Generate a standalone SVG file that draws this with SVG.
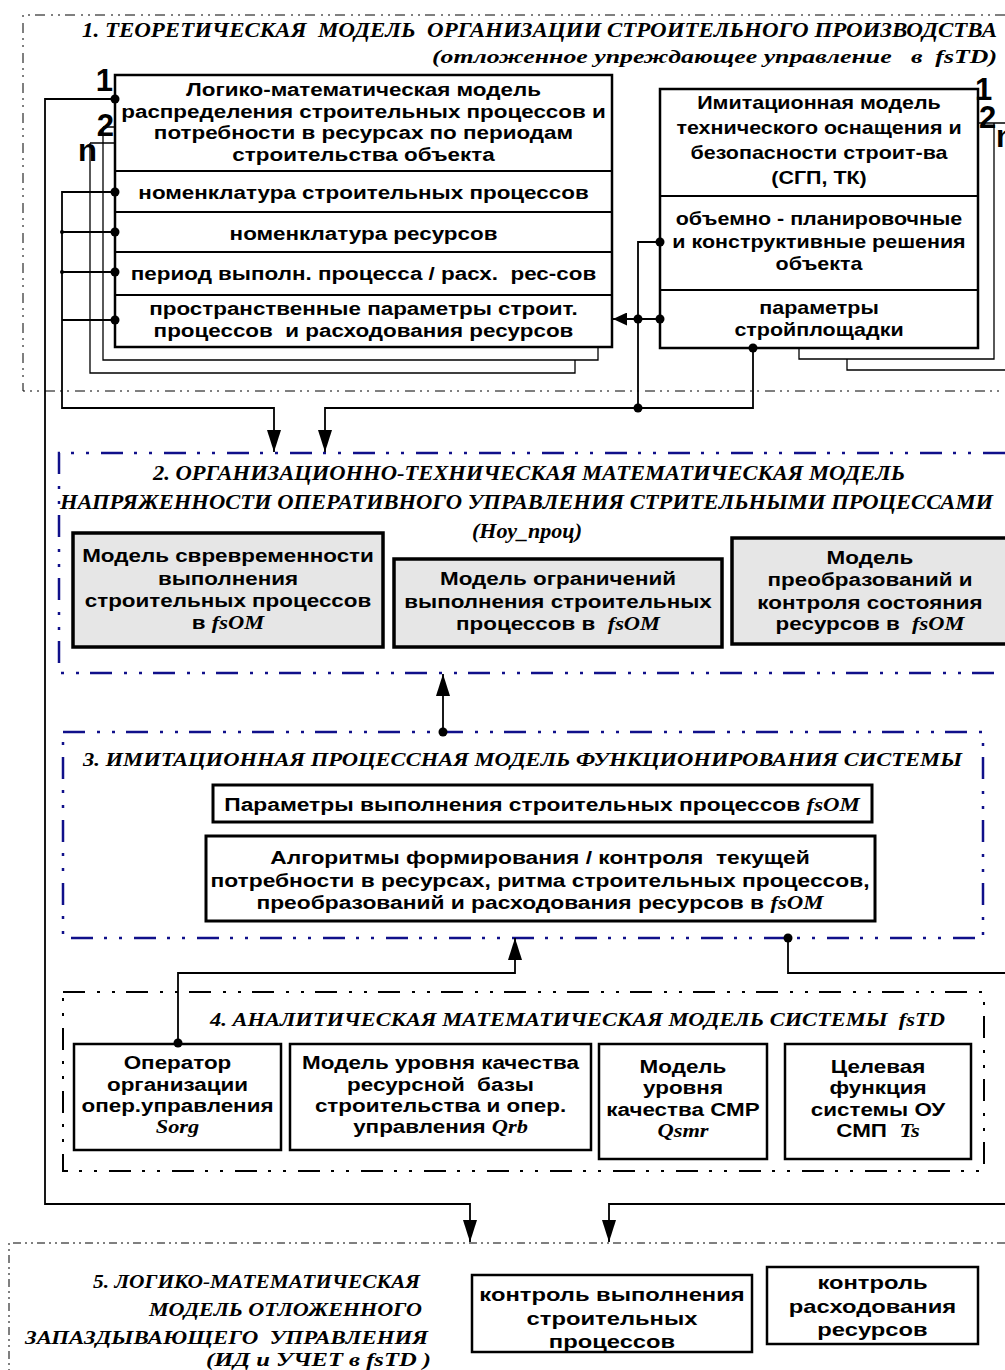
<svg xmlns="http://www.w3.org/2000/svg" width="1005" height="1370" viewBox="0 0 1005 1370">
<style>
.t{font-family:"Liberation Sans",Arial,sans-serif;font-weight:bold;font-size:19px;text-anchor:middle;white-space:pre;fill:#000}
.i{font-family:"Liberation Serif","Times New Roman",serif;font-style:italic;font-weight:bold}
.h{font-family:"Liberation Serif","Times New Roman",serif;font-style:italic;font-weight:bold;font-size:19px;white-space:pre;fill:#000}
.num{font-family:"Liberation Sans",Arial,sans-serif;font-weight:bold;font-size:31px;fill:#000}
.box{fill:#fff;stroke:#000;stroke-width:2.5}
.gbox{fill:#e6e6e6;stroke:#000;stroke-width:3.5}
.sh{fill:none;stroke:#000;stroke-width:1.3}
.ln{fill:none;stroke:#000;stroke-width:1.8}
.f1{fill:none;stroke:#000;stroke-width:1;stroke-dasharray:10 5 2 5 2 6}
.fb{fill:none;stroke:#10108a;stroke-width:2.5;stroke-dasharray:22 12 3 12 3 11}
.f4{fill:none;stroke:#000;stroke-width:2;stroke-dasharray:22 12 3 12 3 11}
.f5{fill:none;stroke:#000;stroke-width:1;stroke-dasharray:8 4 2 4 2 4}
.dot{fill:#000}
</style>
<defs>
<marker id="ah" markerUnits="userSpaceOnUse" markerWidth="22" markerHeight="14" refX="22" refY="7" orient="auto"><path d="M0,0 L22,7 L0,14 z" fill="#000"/></marker>
<marker id="ahs" markerUnits="userSpaceOnUse" markerWidth="14" markerHeight="13" refX="14" refY="6.5" orient="auto"><path d="M0,0 L14,6.5 L0,13 z" fill="#000"/></marker>
</defs>

<g id="section1">
<path class="f1" d="M1005,15 H23 V391 H1005"/>
<text class="h" x="82" y="37" textLength="915" lengthAdjust="spacingAndGlyphs" style="font-size:21px">1. ТЕОРЕТИЧЕСКАЯ  МОДЕЛЬ  ОРГАНИЗАЦИИ СТРОИТЕЛЬНОГО ПРОИЗВОДСТВА</text>
<text class="h" x="432" y="63" textLength="565" lengthAdjust="spacingAndGlyphs" style="font-size:18px">(отложенное упреждающее управление   в  fsTD)</text>
</g>

<g id="node-logic-model">
<path class="sh" d="M90,143 H115 M90,143 V373 H575 V360"/>
<path class="sh" d="M103,127 H115 M103,127 V360 H598 V347"/>
<rect class="box" x="115" y="75" width="497" height="272"/>
<path class="ln" d="M115,171 H612 M115,212 H612 M115,252 H612 M115,295 H612" style="stroke-width:2.2"/>
<text class="num" x="113" y="91" text-anchor="end">1</text>
<text class="num" x="114" y="136" text-anchor="end">2</text>
<text class="num" x="97" y="161" text-anchor="end">n</text>
<g transform="translate(363.5,0) scale(1.18,1)">
<text class="t" x="0" y="96">Логико-математическая модель</text>
<text class="t" x="0" y="118">распределения строительных процессов и</text>
<text class="t" x="0" y="139">потребности в ресурсах по периодам</text>
<text class="t" x="0" y="161">строительства объекта</text>
<text class="t" x="0" y="199">номенклатура строительных процессов</text>
<text class="t" x="0" y="240">номенклатура ресурсов</text>
<text class="t" x="0" y="280">период выполн. процесса / расх.  рес-сов</text>
<text class="t" x="0" y="315">пространственные параметры строит.</text>
<text class="t" x="0" y="337">процессов  и расходования ресурсов</text>
</g>
</g>

<g id="node-imitation-model">
<path class="sh" d="M978,123 H1005 M994,123 V359 H799 V348"/>
<path class="sh" d="M1005,370 H847 V359"/>
<rect class="box" x="660" y="89" width="318" height="259"/>
<path class="ln" d="M660,196 H978 M660,290 H978" style="stroke-width:2.2"/>
<text class="num" x="975" y="100">1</text>
<text class="num" x="979" y="128">2</text>
<text class="num" x="996" y="147">n</text>
<g transform="translate(819,0) scale(1.13,1)">
<text class="t" x="0" y="109">Имитационная модель</text>
<text class="t" x="0" y="134">технического оснащения и</text>
<text class="t" x="0" y="159">безопасности строит-ва</text>
<text class="t" x="0" y="184">(СГП, ТК)</text>
<text class="t" x="0" y="225">объемно - планировочные</text>
<text class="t" x="0" y="248">и конструктивные решения</text>
<text class="t" x="0" y="270">объекта</text>
<text class="t" x="0" y="314">параметры</text>
<text class="t" x="0" y="336">стройплощадки</text>
</g>
</g>

<g id="section2">
<path class="fb" d="M1005,453 H59 V673 H1005"/>
<text class="h" x="153" y="480" textLength="752" lengthAdjust="spacingAndGlyphs" style="font-size:20px">2. ОРГАНИЗАЦИОННО-ТЕХНИЧЕСКАЯ МАТЕМАТИЧЕСКАЯ МОДЕЛЬ</text>
<text class="h" x="60" y="509" textLength="933" lengthAdjust="spacingAndGlyphs" style="font-size:20px">НАПРЯЖЕННОСТИ ОПЕРАТИВНОГО УПРАВЛЕНИЯ СТРИТЕЛЬНЫМИ ПРОЦЕССАМИ</text>
<text class="h" x="472" y="538" textLength="110" lengthAdjust="spacingAndGlyphs" style="font-size:20px">(Ноу_проц)</text>
</g>
<g id="node-timeliness">
<rect class="gbox" x="73" y="533" width="310" height="114"/>
<g transform="translate(228,0) scale(1.18,1)">
<text class="t" x="0" y="562">Модель свревременности</text>
<text class="t" x="0" y="585">выполнения</text>
<text class="t" x="0" y="607">строительных процессов</text>
<text class="t" x="0" y="629">в <tspan class="i">fsOM</tspan></text>
</g>
</g>
<g id="node-constraints">
<rect class="gbox" x="394" y="559" width="328" height="88"/>
<g transform="translate(558,0) scale(1.18,1)">
<text class="t" x="0" y="585">Модель ограничений</text>
<text class="t" x="0" y="608">выполнения строительных</text>
<text class="t" x="0" y="630">процессов в  <tspan class="i">fsOM</tspan></text>
</g>
</g>
<g id="node-transform">
<rect class="gbox" x="732" y="538" width="280" height="106"/>
<g transform="translate(870,0) scale(1.18,1)">
<text class="t" x="0" y="564">Модель</text>
<text class="t" x="0" y="586">преобразований и</text>
<text class="t" x="0" y="609">контроля состояния</text>
<text class="t" x="0" y="630">ресурсов в  <tspan class="i">fsOM</tspan></text>
</g>
</g>

<g id="section3">
<rect class="fb" x="63" y="732" width="920" height="206"/>
<text class="h" x="83" y="766" textLength="879" lengthAdjust="spacingAndGlyphs">3. ИМИТАЦИОННАЯ ПРОЦЕССНАЯ МОДЕЛЬ ФУНКЦИОНИРОВАНИЯ СИСТЕМЫ</text>
</g>
<g id="node-params">
<rect class="box" x="213" y="785" width="659" height="37" style="stroke-width:3"/>
<g transform="translate(542,0) scale(1.2,1)">
<text class="t" x="0" y="811">Параметры выполнения строительных процессов <tspan class="i">fsOM</tspan></text>
</g>
</g>
<g id="node-algorithms">
<rect class="box" x="206" y="836" width="669" height="85" style="stroke-width:3"/>
<g transform="translate(540,0) scale(1.2,1)">
<text class="t" x="0" y="864">Алгоритмы формирования / контроля  текущей</text>
<text class="t" x="0" y="887">потребности в ресурсах, ритма строительных процессов,</text>
<text class="t" x="0" y="909">преобразований и расходования ресурсов в <tspan class="i">fsOM</tspan></text>
</g>
</g>

<g id="section4">
<rect class="f4" x="63" y="992" width="921" height="179"/>
<text class="h" x="210" y="1026" textLength="735" lengthAdjust="spacingAndGlyphs">4. АНАЛИТИЧЕСКАЯ МАТЕМАТИЧЕСКАЯ МОДЕЛЬ СИСТЕМЫ  fsTD</text>
</g>
<g id="node-sorg">
<rect class="box" x="74" y="1044" width="207" height="106"/>
<g transform="translate(177.5,0) scale(1.18,1)">
<text class="t" x="0" y="1069">Оператор</text>
<text class="t" x="0" y="1091">организации</text>
<text class="t" x="0" y="1112">опер.управления</text>
<text class="t" x="0" y="1133"><tspan class="i">Sorg</tspan></text>
</g>
</g>
<g id="node-qrb">
<rect class="box" x="290" y="1044" width="301" height="106"/>
<g transform="translate(440.5,0) scale(1.18,1)">
<text class="t" x="0" y="1069">Модель уровня качества</text>
<text class="t" x="0" y="1091">ресурсной  базы</text>
<text class="t" x="0" y="1112">строительства и опер.</text>
<text class="t" x="0" y="1133">управления <tspan class="i">Qrb</tspan></text>
</g>
</g>
<g id="node-qsmr">
<rect class="box" x="599" y="1044" width="168" height="115"/>
<g transform="translate(683,0) scale(1.18,1)">
<text class="t" x="0" y="1073">Модель</text>
<text class="t" x="0" y="1094">уровня</text>
<text class="t" x="0" y="1116">качества СМР</text>
<text class="t" x="0" y="1137"><tspan class="i">Qsmr</tspan></text>
</g>
</g>
<g id="node-ts">
<rect class="box" x="785" y="1044" width="186" height="115"/>
<g transform="translate(878,0) scale(1.18,1)">
<text class="t" x="0" y="1073">Целевая</text>
<text class="t" x="0" y="1094">функция</text>
<text class="t" x="0" y="1116">системы ОУ</text>
<text class="t" x="0" y="1137">СМП  <tspan class="i">Ts</tspan></text>
</g>
</g>

<g id="section5">
<path class="f5" d="M1005,1243 H9 V1370"/>
<text class="h" x="93" y="1288" textLength="327" lengthAdjust="spacingAndGlyphs">5. ЛОГИКО-МАТЕМАТИЧЕСКАЯ</text>
<text class="h" x="149" y="1316" textLength="273" lengthAdjust="spacingAndGlyphs">МОДЕЛЬ ОТЛОЖЕННОГО</text>
<text class="h" x="25" y="1344" textLength="403" lengthAdjust="spacingAndGlyphs">ЗАПАЗДЫВАЮЩЕГО  УПРАВЛЕНИЯ</text>
<text class="h" x="206" y="1366" textLength="225" lengthAdjust="spacingAndGlyphs">(ИД и УЧЕТ в fsTD )</text>
</g>
<g id="node-control-proc">
<rect class="box" x="472" y="1275" width="280" height="77"/>
<g transform="translate(612,0) scale(1.25,1)">
<text class="t" x="0" y="1301">контроль выполнения</text>
<text class="t" x="0" y="1325">строительных</text>
<text class="t" x="0" y="1348">процессов</text>
</g>
</g>
<g id="node-control-res">
<rect class="box" x="767" y="1267" width="211" height="77"/>
<g transform="translate(872.5,0) scale(1.25,1)">
<text class="t" x="0" y="1289">контроль</text>
<text class="t" x="0" y="1313">расходования</text>
<text class="t" x="0" y="1336">ресурсов</text>
</g>
</g>

<g id="connectors">
<path class="ln" d="M115,99 H45 V1204 H470 V1242" marker-end="url(#ah)"/>
<path class="ln" d="M115,192 H62 V408 H274 V452" marker-end="url(#ah)"/>
<path class="ln" d="M62,232 H115 M62,272 H115 M62,320 H115"/>
<path class="ln" d="M660,242 H638 V408"/>
<path class="ln" d="M660,319 H613" marker-end="url(#ahs)"/>
<path class="ln" d="M753,348 V408 H325 V452" marker-end="url(#ah)"/>
<path class="ln" d="M443,732 V674" marker-end="url(#ah)"/>
<path class="ln" d="M178,1043 V973 H515 V938" marker-end="url(#ah)"/>
<path class="ln" d="M788,938 V973 H1005"/>
<path class="ln" d="M1005,1204 H609 V1242" marker-end="url(#ah)"/>
<circle class="dot" cx="115" cy="99" r="4.5"/>
<circle class="dot" cx="115" cy="192" r="4.5"/>
<circle class="dot" cx="115" cy="232" r="4.5"/>
<circle class="dot" cx="115" cy="272" r="4.5"/>
<circle class="dot" cx="115" cy="320" r="4.5"/>
<circle class="dot" cx="62" cy="232" r="2"/>
<circle class="dot" cx="62" cy="272" r="2"/>
<circle class="dot" cx="660" cy="242" r="4.5"/>
<circle class="dot" cx="660" cy="319" r="4.5"/>
<circle class="dot" cx="638" cy="319" r="4.5"/>
<circle class="dot" cx="753" cy="348" r="4.5"/>
<circle class="dot" cx="638" cy="408" r="4.5"/>
<circle class="dot" cx="443" cy="732" r="4.5"/>
<circle class="dot" cx="178" cy="1043" r="4.5"/>
<circle class="dot" cx="788" cy="938" r="4.5"/>
</g>
</svg>
